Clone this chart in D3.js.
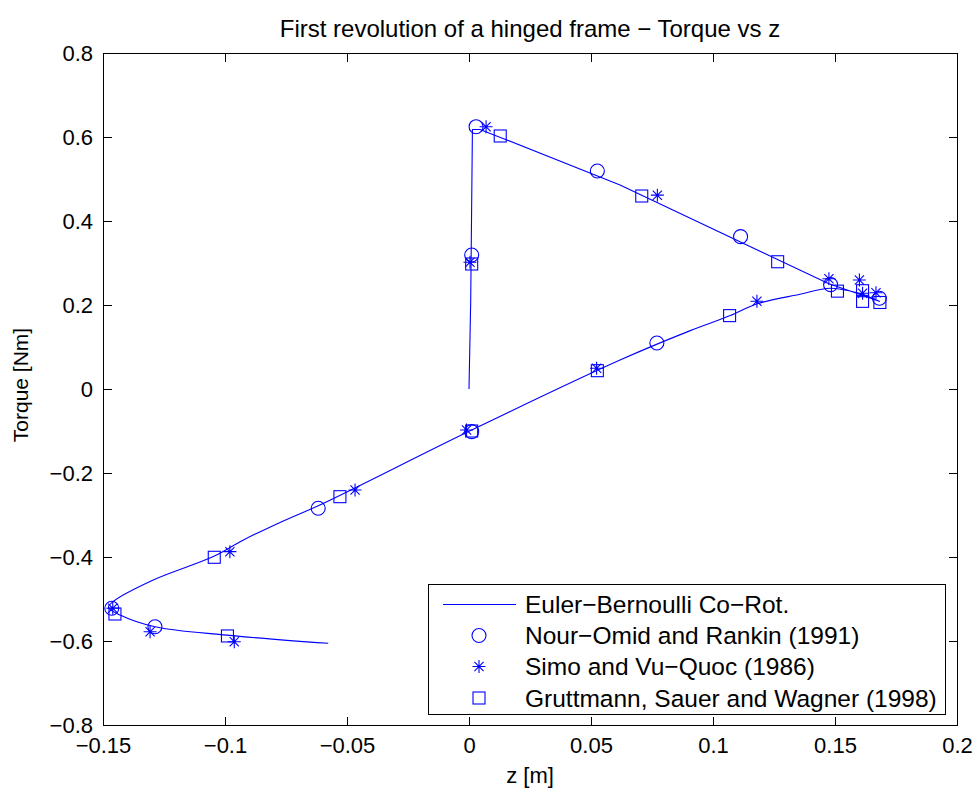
<!DOCTYPE html>
<html>
<head>
<meta charset="utf-8">
<script src="https://cdn.jsdelivr.net/npm/d3@7"></script>
<style>
  body { margin: 0; background: #fff; }
  svg { display: block; font-family: "Liberation Sans", Arial, sans-serif; }
</style>
</head>
<body>
<svg id="chart" width="979" height="792"></svg>
<script>
// continuous Euler-Bernoulli curve
const curveZ = [0, 0.0007, 0.0014, 0.0045, 0.0155, 0.0619, 0.1475, 0.1589, 0.1684,
    0.159, 0.148, 0.1357, 0.1181, 0.1071, 0.0907, 0.0619, 0.0011, -0.0618, -0.0761,
    -0.0926, -0.1048, -0.1294, -0.1458, -0.1478, -0.143, -0.1287, -0.0993, -0.0577]
const curveT = [0, 0.21, 0.618, 0.618, 0.593, 0.4855, 0.2505, 0.228, 0.2083,
    0.229, 0.2398, 0.2255, 0.2029, 0.1748, 0.139, 0.069, -0.0976, -0.278, -0.314,
    -0.36, -0.399, -0.4548, -0.506, -0.52, -0.538, -0.566, -0.586, -0.6055]
const turnIndex = 8 // far end of the straight loading branch

// Nour-Omid and Rankin (circles)
const nourZ = [0.0029, 0.0526, 0.1113, 0.1482, 0.1682, 0.0011, 0.0011, -0.0618, 0.077, -0.1287, -0.1464]
const nourT = [0.6245, 0.519, 0.3627, 0.2484, 0.216, 0.319, -0.1016, -0.284, 0.1095, -0.566, -0.522]

// Simo and Vu-Quoc (stars)
const simoZ = [0.007, 0.0772, 0.1475, 0.16, 0.1613, 0.1668, 0.118, 0.0523, -0.001, -0.0467, -0.098, -0.146, -0.1307, -0.0962, 0.0004]
const simoT = [0.6245, 0.4615, 0.2624, 0.2595, 0.228, 0.2293, 0.209, 0.0493, -0.0976, -0.2405, -0.3873, -0.522, -0.578, -0.6017, 0.3017]

// Gruttmann, Sauer and Wagner (squares)
const grutZ = [0.0128, 0.0708, 0.1265, 0.151, 0.1613, 0.1613, 0.1684, 0.1068, 0.0526, 0.0011, -0.0529, -0.1044, -0.1451, -0.099, 0.0011]
const grutT = [0.6024, 0.4595, 0.303, 0.233, 0.234, 0.2087, 0.206, 0.1747, 0.0436, -0.1, -0.2564, -0.4007, -0.5357, -0.588, 0.2976]

const xTicks = [-0.15, -0.1, -0.05, 0, 0.05, 0.1, 0.15, 0.2]
const xTickLabels = ['\u22120.15', '\u22120.1', '\u22120.05', '0', '0.05', '0.1', '0.15', '0.2']
const yTicks = [-0.8, -0.6, -0.4, -0.2, 0, 0.2, 0.4, 0.6, 0.8]
const yTickLabels = ['\u22120.8', '\u22120.6', '\u22120.4', '\u22120.2', '0', '0.2', '0.4', '0.6', '0.8']

const legendLabels = ['Euler\u2212Bernoulli Co\u2212Rot.', 'Nour\u2212Omid and Rankin (1991)',
    'Simo and Vu\u2212Quoc (1986)', 'Gruttmann, Sauer and Wagner (1998)']

const svg = d3.select('#chart')
const plotL = 103, plotR = 957, plotT = 53, plotB = 725
const tick = 8.5
const blue = '#0000ff'

const x = d3.scaleLinear().domain([-0.15, 0.2]).range([plotL, plotR])
const y = d3.scaleLinear().domain([-0.8, 0.8]).range([plotB, plotT])

const zip = (a, b) => a.map((v, i) => [v, b[i]])

// axes with inward ticks on all four sides
const axisStyle = g => {
    g.select('.domain').remove()
    g.selectAll('line').attr('stroke', '#000').attr('shape-rendering', 'crispEdges')
    g.selectAll('text').attr('font-size', 22).attr('fill', '#000')
    g.attr('font-family', null).attr('font-size', null)
}

svg.append('g')
    .attr('transform', `translate(0,${plotB})`)
    .call(d3.axisBottom(x).tickValues(xTicks).tickFormat((d, i) => xTickLabels[i])
        .tickSizeInner(-tick).tickSizeOuter(0).tickPadding(12))
    .call(axisStyle)

svg.append('g')
    .attr('transform', `translate(0,${plotT})`)
    .call(d3.axisTop(x).tickValues(xTicks).tickFormat('').tickSizeInner(-tick).tickSizeOuter(0))
    .call(axisStyle)

svg.append('g')
    .attr('transform', `translate(${plotL},0)`)
    .call(d3.axisLeft(y).tickValues(yTicks).tickFormat((d, i) => yTickLabels[i])
        .tickSizeInner(-tick).tickSizeOuter(0).tickPadding(10))
    .call(axisStyle)

svg.append('g')
    .attr('transform', `translate(${plotR},0)`)
    .call(d3.axisRight(y).tickValues(yTicks).tickFormat('').tickSizeInner(-tick).tickSizeOuter(0))
    .call(axisStyle)

svg.append('rect')
    .attr('x', plotL).attr('y', plotT)
    .attr('width', plotR - plotL).attr('height', plotB - plotT)
    .attr('fill', 'none').attr('stroke', '#000')
    .attr('shape-rendering', 'crispEdges')

const plot = svg.append('g')
const pts = zip(curveZ, curveT)

// loading branch is straight segments, the return branch is smooth
const straight = d3.line().x(d => x(d[0])).y(d => y(d[1]))
const smooth = d3.line().x(d => x(d[0])).y(d => y(d[1])).curve(d3.curveCatmullRom.alpha(0.5))

plot.append('path')
    .attr('d', straight(pts.slice(0, turnIndex + 1)) + smooth(pts.slice(turnIndex)))
    .attr('fill', 'none')
    .attr('stroke', blue)
    .attr('stroke-width', 1.1)
    .attr('stroke-linejoin', 'round')

const circleMark = (g, cx, cy) => g.append('circle')
    .attr('cx', cx).attr('cy', cy).attr('r', 7)
    .attr('fill', 'none').attr('stroke', blue).attr('stroke-width', 1.1)

const starMark = (g, cx, cy) => {
    const a = 6.5, b = 4.6
    g.append('path')
        .attr('d', `M${cx - a},${cy}H${cx + a}M${cx},${cy - a}V${cy + a}` +
            `M${cx - b},${cy - b}L${cx + b},${cy + b}M${cx - b},${cy + b}L${cx + b},${cy - b}`)
        .attr('fill', 'none').attr('stroke', blue).attr('stroke-width', 1.1)
}

const squareMark = (g, cx, cy) => g.append('rect')
    .attr('x', cx - 6).attr('y', cy - 6).attr('width', 12).attr('height', 12)
    .attr('fill', 'none').attr('stroke', blue).attr('stroke-width', 1.1)

zip(nourZ, nourT).forEach(d => circleMark(plot, x(d[0]), y(d[1])))
zip(simoZ, simoT).forEach(d => starMark(plot, x(d[0]), y(d[1])))
zip(grutZ, grutT).forEach(d => squareMark(plot, x(d[0]), y(d[1])))

// labels
svg.append('text')
    .attr('x', (plotL + plotR) / 2).attr('y', 37)
    .attr('text-anchor', 'middle').attr('font-size', 24)
    .text('First revolution of a hinged frame \u2212 Torque vs z')

svg.append('text')
    .attr('x', (plotL + plotR) / 2).attr('y', 783)
    .attr('text-anchor', 'middle').attr('font-size', 22)
    .text('z [m]')

svg.append('text')
    .attr('transform', `translate(28,385) rotate(-90)`)
    .attr('text-anchor', 'middle').attr('font-size', 21)
    .text('Torque [Nm]')

// legend
const legend = svg.append('g')
legend.append('rect')
    .attr('x', 428.5).attr('y', 584.5).attr('width', 517).attr('height', 130)
    .attr('fill', '#fff').attr('stroke', '#000').attr('shape-rendering', 'crispEdges')

const rowY = [604.5, 635.5, 666.5, 698]
legend.append('line')
    .attr('x1', 443).attr('x2', 516).attr('y1', rowY[0]).attr('y2', rowY[0])
    .attr('stroke', blue).attr('stroke-width', 1.1)
circleMark(legend, 479, rowY[1])
starMark(legend, 479, rowY[2])
squareMark(legend, 479, rowY[3])

legend.selectAll('text.lab')
    .data(legendLabels)
    .enter()
    .append('text')
    .attr('class', 'lab')
    .attr('x', 525)
    .attr('y', (_, i) => rowY[i])
    .attr('dy', '0.36em')
    .attr('font-size', 24.5)
    .text(d => d)
</script>
</body>
</html>
